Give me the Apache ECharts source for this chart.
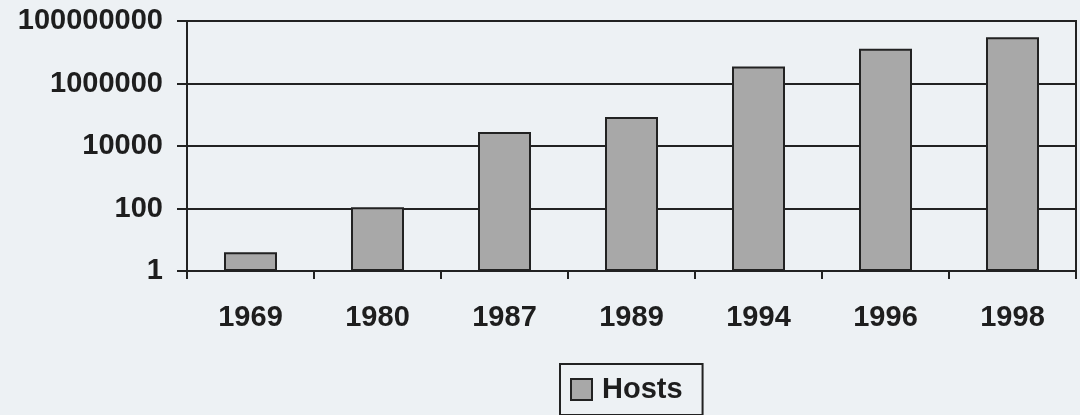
<!DOCTYPE html>
<html>
<head>
<meta charset="utf-8">
<script src="https://cdn.jsdelivr.net/npm/echarts@6/dist/echarts.min.js"></script>
<style>
html,body{margin:0;padding:0;background:#edf1f4;}
#c{width:1080px;height:415px;}
</style>
</head>
<body>
<div id="c"></div>
<script>
const years = ['1969', '1980', '1987', '1989', '1994', '1996', '1998'];
const hosts = [4, 110, 28000, 85000, 3500000, 13000000, 30000000];
const seriesName = 'Hosts';
const yMin = 1;
const yMax = 100000000;

const chart = echarts.init(document.getElementById('c'));
const font = 'Liberation Sans, Arial, sans-serif';
chart.setOption({
  backgroundColor: '#edf1f4',
  animation: false,
  grid: {
    left: 187, right: 4, top: 21, bottom: 144,
    show: true, borderColor: '#222', borderWidth: 2, backgroundColor: 'transparent'
  },
  legend: {
    data: [seriesName],
    left: 560, top: 364,
    padding: [11, 20, 11, 10],
    borderColor: '#222', borderWidth: 2,
    itemWidth: 21, itemHeight: 21, itemGap: 6,
    icon: 'rect',
    textStyle: { fontFamily: font, fontWeight: 'bold', fontSize: 29, color: '#1e1e1e', padding: [0,0,0,5] }
  },
  xAxis: {
    type: 'category',
    data: years,
    axisLine: { lineStyle: { color: '#222', width: 2 } },
    axisTick: { show: true, length: 8, lineStyle: { color: '#222', width: 2 } },
    axisLabel: { fontFamily: font, fontWeight: 'bold', fontSize: 29, color: '#1e1e1e', margin: 32 }
  },
  yAxis: {
    type: 'log',
    logBase: 100,
    min: yMin, max: yMax,
    axisLine: { show: true, lineStyle: { color: '#222', width: 2 } },
    axisTick: { show: true, length: 10, lineStyle: { color: '#222', width: 2 } },
    splitLine: { show: true, lineStyle: { color: '#222', width: 2 } },
    minorTick: { show: false },
    axisLabel: {
      fontFamily: font, fontWeight: 'bold', fontSize: 29, color: '#1e1e1e', margin: 24,
      formatter: v => String(Math.round(v))
    }
  },
  series: [{
    name: seriesName,
    type: 'bar',
    data: hosts,
    barWidth: 53,
    itemStyle: { color: '#a8a8a8', borderColor: '#222', borderWidth: 2 }
  }]
});
</script>
</body>
</html>
